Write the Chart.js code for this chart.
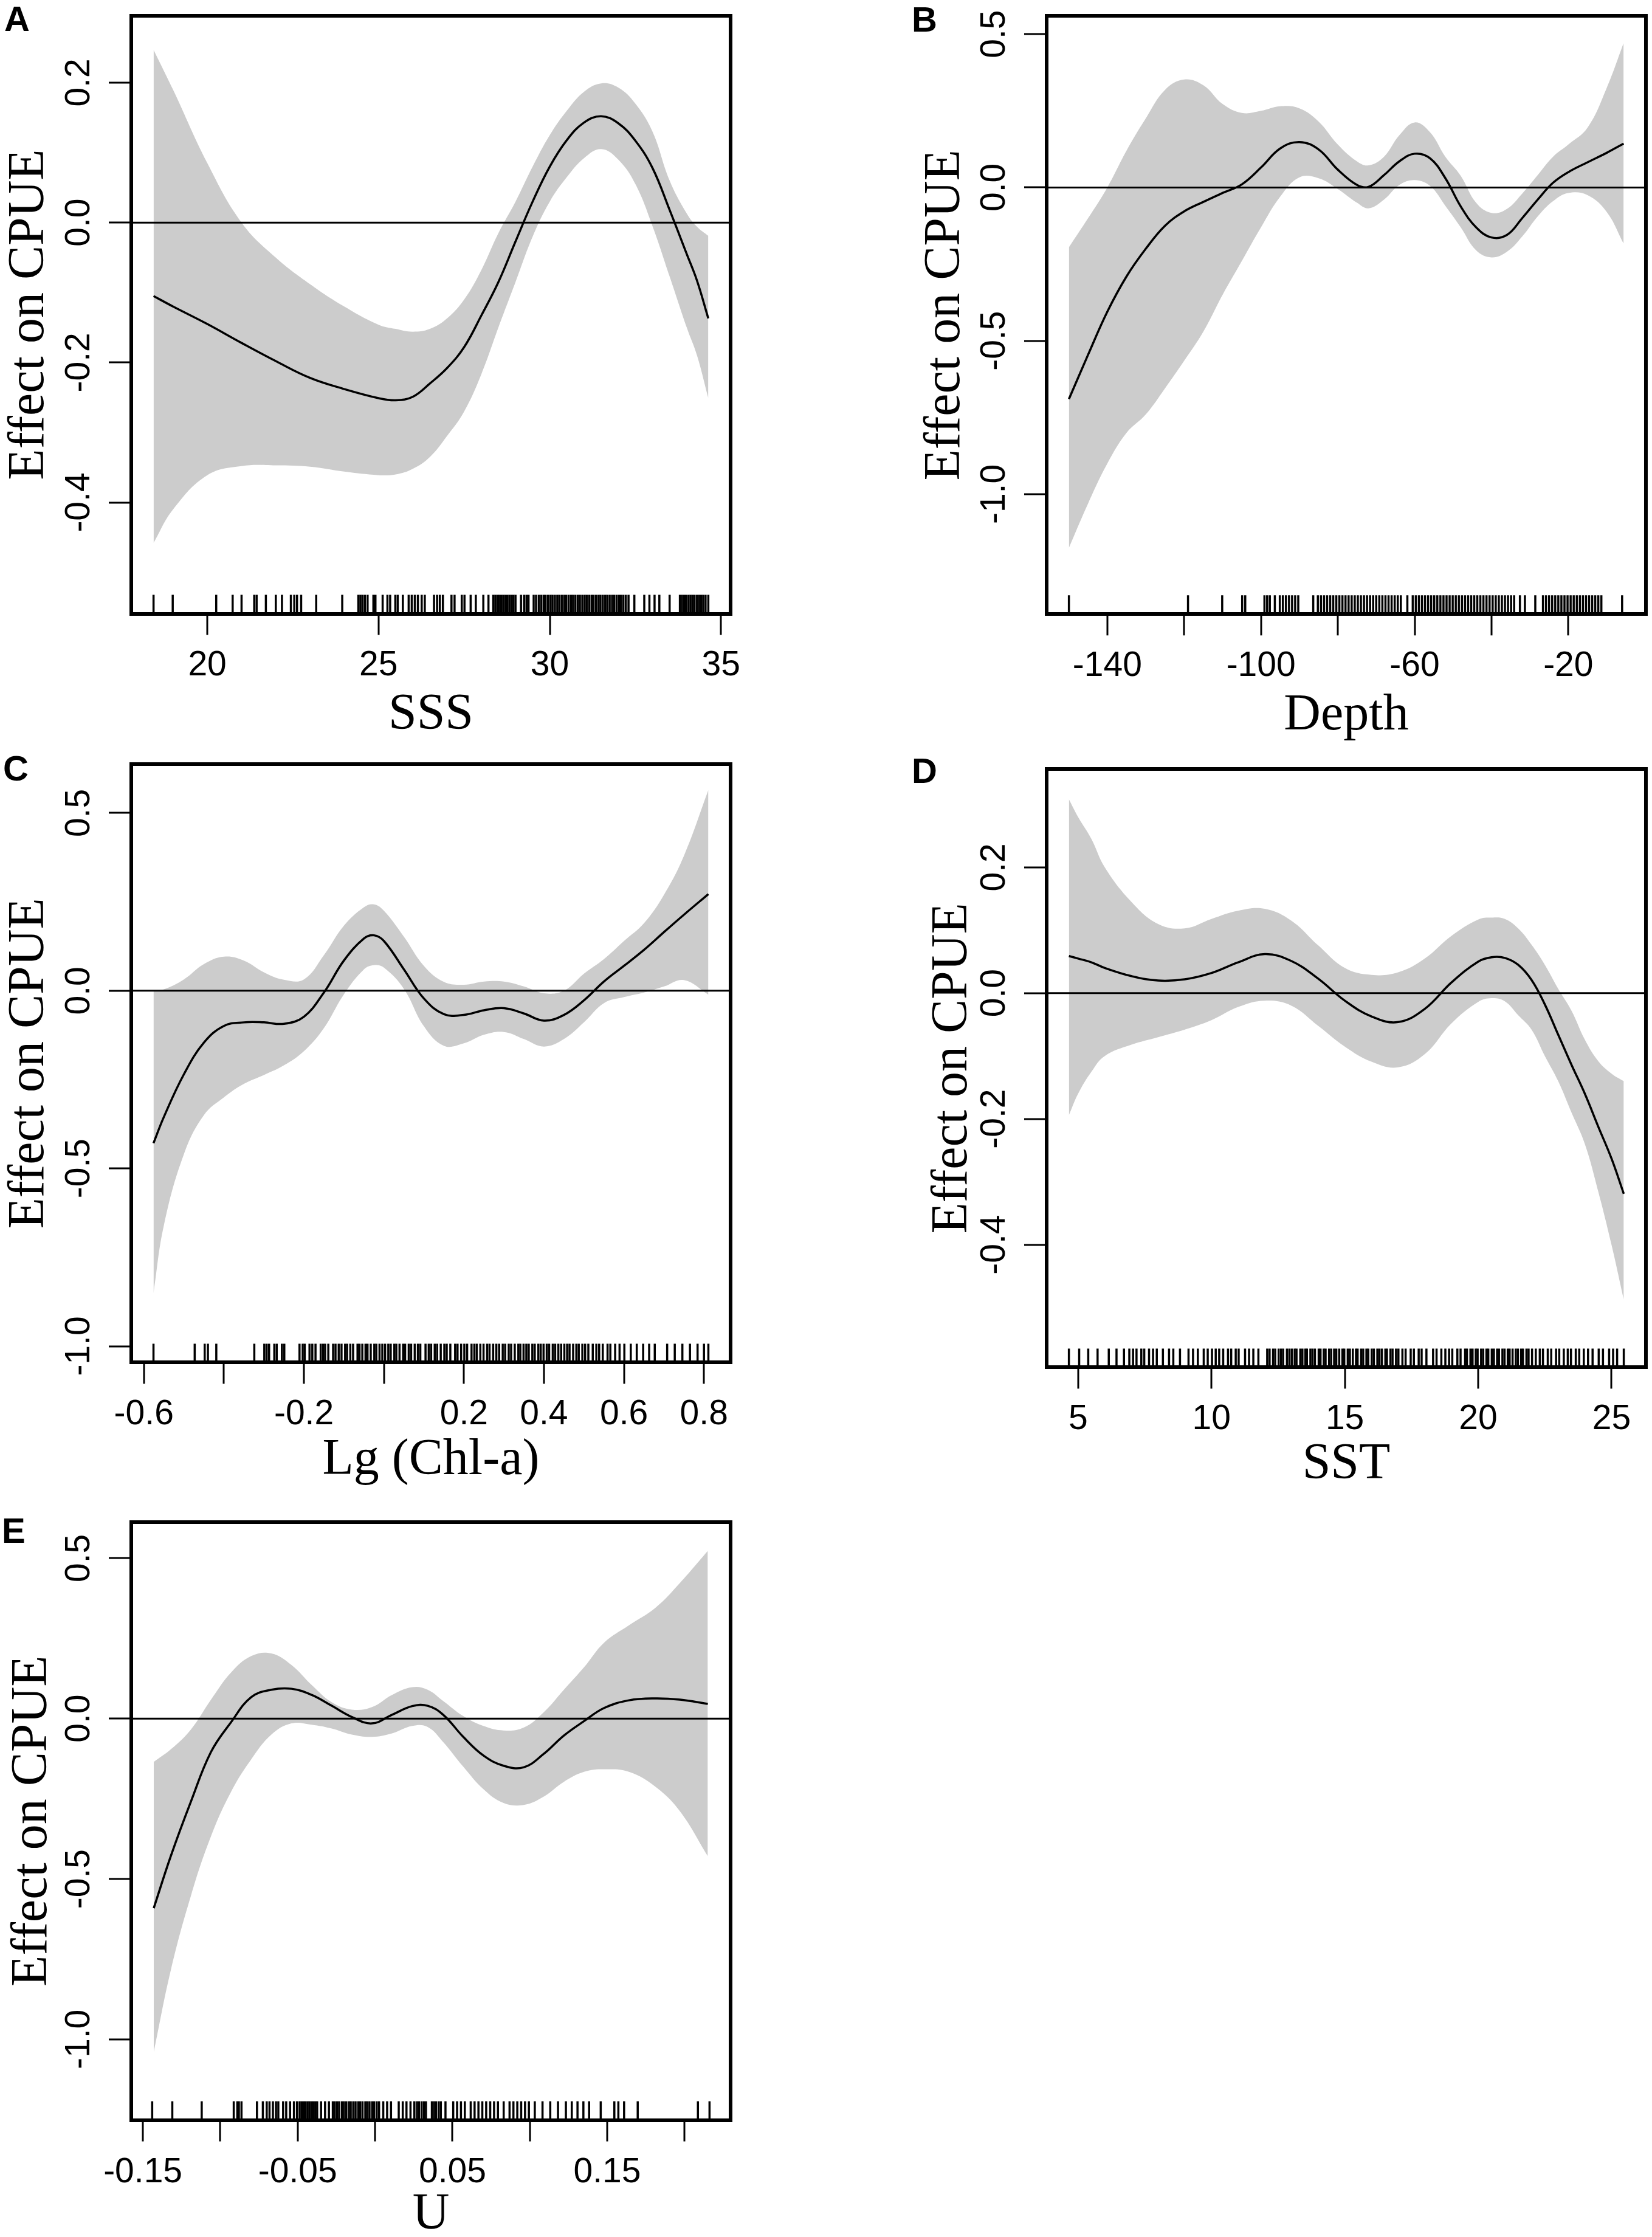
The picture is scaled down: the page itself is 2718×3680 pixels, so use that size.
<!DOCTYPE html>
<html lang="en">
<head>
<meta charset="utf-8">
<title>Effect on CPUE</title>
<script src="https://cdn.jsdelivr.net/npm/chart.js@4.4.1/dist/chart.umd.min.js"></script>
<style>
  html, body { margin: 0; padding: 0; background: #ffffff; }
  body { position: relative; width: 2718px; height: 3680px; overflow: hidden; }
  canvas { position: absolute; }
  .tag { position: absolute; font-family: "Liberation Sans", Arial, Helvetica, sans-serif; font-weight: bold; font-size: 58px; line-height: 58px; color: #000; }
</style>
</head>
<body>
<div class="tag" style="left:7px;top:2px">A</div>
<div class="tag" style="left:1500px;top:3px">B</div>
<div class="tag" style="left:5px;top:1235px">C</div>
<div class="tag" style="left:1500px;top:1239px">D</div>
<div class="tag" style="left:3px;top:2489px">E</div>
<canvas id="cA"></canvas>
<canvas id="cB"></canvas>
<canvas id="cC"></canvas>
<canvas id="cD"></canvas>
<canvas id="cE"></canvas>
<script>
// ---------------- DATA ----------------
// Panel A: SSS
const sssX = [18.43, 19, 20, 21, 22, 23, 24, 25, 25.5, 26, 26.5, 27, 27.5, 28, 28.5, 29, 29.5, 30, 30.5, 31, 31.5, 32, 32.5, 33, 33.5, 34, 34.3, 34.63];
const sssFit = [-0.105, -0.120, -0.145, -0.172, -0.198, -0.222, -0.238, -0.251, -0.254, -0.249, -0.230, -0.208, -0.178, -0.133, -0.085, -0.027, 0.030, 0.080, 0.118, 0.143, 0.152, 0.142, 0.117, 0.078, 0.018, -0.045, -0.083, -0.137];
const sssUpper = [0.247, 0.190, 0.085, 0.000, -0.050, -0.088, -0.120, -0.146, -0.152, -0.156, -0.152, -0.137, -0.110, -0.068, -0.015, 0.030, 0.080, 0.125, 0.160, 0.187, 0.199, 0.193, 0.170, 0.130, 0.060, 0.013, -0.006, -0.019];
const sssLower = [-0.458, -0.410, -0.361, -0.348, -0.347, -0.349, -0.356, -0.361, -0.360, -0.352, -0.335, -0.305, -0.270, -0.217, -0.150, -0.085, -0.020, 0.030, 0.065, 0.092, 0.105, 0.090, 0.055, -0.005, -0.077, -0.150, -0.190, -0.251];
const sssRug = [18.43, 18.99, 20.26, 20.74, 21.0, 21.37, 21.44, 21.71, 22.0, 22.18, 22.44, 22.54, 22.62, 22.74, 23.18, 23.94, 24.41, 24.47, 24.53, 24.6, 24.68, 24.85, 24.91, 25.12, 25.26, 25.34, 25.49, 25.56, 25.71, 25.88, 25.97, 26.06, 26.15, 26.26, 26.35, 26.62, 26.71, 26.79, 26.88, 27.13, 27.22, 27.43, 27.51, 27.69, 27.84, 28.06, 28.21, 28.35, 28.41, 28.47, 28.52, 28.58, 28.64, 28.7, 28.76, 28.82, 28.88, 28.94, 29.0, 29.16, 29.25, 29.32, 29.38, 29.53, 29.6, 29.68, 29.75, 29.82, 29.88, 29.95, 30.02, 30.08, 30.15, 30.22, 30.28, 30.35, 30.42, 30.48, 30.55, 30.62, 30.68, 30.75, 30.82, 30.88, 30.95, 31.02, 31.08, 31.15, 31.22, 31.28, 31.35, 31.42, 31.48, 31.55, 31.62, 31.68, 31.75, 31.82, 31.88, 31.95, 32.02, 32.08, 32.15, 32.22, 32.3, 32.47, 32.76, 32.91, 33.06, 33.2, 33.5, 33.8, 33.86, 33.92, 33.98, 34.05, 34.11, 34.17, 34.23, 34.3, 34.36, 34.42, 34.48, 34.55, 34.63];
const sssXRange = [17.78, 35.28];
const sssYRange = [-0.559, 0.296];
const sssXTicks = [20, 25, 30, 35];
const sssXLabels = ['20', '25', '30', '35'];
const sssYTicks = [-0.4, -0.2, 0, 0.2];
const sssYLabels = ['-0.4', '-0.2', '0.0', '0.2'];

// Panel B: Depth
const depthX = [-150, -145, -140, -135, -130, -125, -120, -115, -110, -105, -100, -95, -90, -85, -80, -75, -72, -68, -64, -60, -56, -52, -48, -44, -40, -36, -32, -28, -24, -20, -15, -10, -5.6];
const depthFit = [-0.690, -0.545, -0.405, -0.290, -0.200, -0.125, -0.078, -0.047, -0.018, 0.010, 0.065, 0.127, 0.148, 0.124, 0.058, 0.008, 0.002, 0.040, 0.085, 0.110, 0.095, 0.030, -0.062, -0.130, -0.163, -0.155, -0.100, -0.040, 0.015, 0.050, 0.082, 0.113, 0.143];
const depthUpper = [-0.195, -0.100, 0.000, 0.120, 0.225, 0.318, 0.352, 0.333, 0.272, 0.243, 0.250, 0.265, 0.258, 0.215, 0.140, 0.085, 0.072, 0.100, 0.170, 0.212, 0.180, 0.100, 0.038, -0.050, -0.083, -0.070, -0.020, 0.040, 0.100, 0.140, 0.195, 0.325, 0.471];
const depthLower = [-1.175, -1.030, -0.900, -0.800, -0.740, -0.655, -0.565, -0.470, -0.350, -0.240, -0.130, -0.030, 0.033, 0.030, -0.005, -0.050, -0.068, -0.040, 0.008, 0.024, 0.005, -0.060, -0.130, -0.205, -0.228, -0.210, -0.160, -0.095, -0.045, -0.018, -0.025, -0.080, -0.183];
const depthRug = [-150, -119, -110.1, -104.9, -104.1, -99.1, -98.4, -97.7, -96.4, -95.1, -94.3, -93.5, -92.7, -91.9, -91.1, -90.3, -86.4, -85.2, -84.4, -83.6, -82.8, -82, -81.2, -80.4, -79.6, -78.8, -78, -77.2, -76.4, -75.6, -74.8, -74, -73.2, -72.4, -71.6, -70.8, -70, -69.2, -68.4, -67.6, -66.8, -66, -65.2, -64.4, -63.6, -61.9, -60.5, -59.7, -58.9, -58.1, -57.3, -56.5, -55.7, -54.9, -54.1, -53.3, -52.5, -51.7, -50.9, -50.1, -49.3, -48.5, -47.7, -46.9, -46.1, -45.3, -44.5, -43.7, -42.9, -42.1, -41.3, -40.5, -39.7, -38.9, -38.1, -37.3, -36.5, -35.7, -34.9, -34.1, -32.6, -31.3, -28.6, -26.6, -25.8, -25, -24.2, -23.4, -22.6, -21.8, -21, -20.2, -19.4, -18.6, -17.8, -17, -16.2, -15.4, -14.6, -13.8, -13, -12.2, -11.4, -6];
const depthXRange = [-155.8, 0.2];
const depthYRange = [-1.391, 0.559];
const depthXTicks = [-140, -120, -100, -80, -60, -40, -20];
const depthXLabels = ['-140', '', '-100', '', '-60', '', '-20'];
const depthYTicks = [-1.0, -0.5, 0, 0.5];
const depthYLabels = ['-1.0', '-0.5', '0.0', '0.5'];

// Panel C: Lg (Chl-a)
const chlX = [-0.576, -0.55, -0.5, -0.45, -0.4, -0.35, -0.3, -0.25, -0.2, -0.15, -0.1, -0.05, -0.025, 0, 0.05, 0.1, 0.15, 0.2, 0.25, 0.3, 0.35, 0.4, 0.45, 0.5, 0.55, 0.6, 0.65, 0.7, 0.75, 0.811];
const chlFit = [-0.429, -0.355, -0.235, -0.146, -0.099, -0.089, -0.089, -0.093, -0.073, -0.005, 0.085, 0.147, 0.156, 0.140, 0.060, -0.022, -0.066, -0.068, -0.055, -0.049, -0.064, -0.084, -0.068, -0.027, 0.026, 0.070, 0.115, 0.165, 0.214, 0.272];
const chlUpper = [0.000, 0.004, 0.032, 0.075, 0.096, 0.085, 0.052, 0.031, 0.032, 0.100, 0.183, 0.235, 0.243, 0.225, 0.152, 0.070, 0.025, 0.017, 0.026, 0.026, 0.012, -0.007, 0.000, 0.048, 0.089, 0.140, 0.190, 0.270, 0.380, 0.565];
const chlLower = [-0.851, -0.660, -0.460, -0.350, -0.300, -0.262, -0.237, -0.210, -0.170, -0.105, -0.010, 0.060, 0.072, 0.065, 0.005, -0.100, -0.155, -0.148, -0.124, -0.116, -0.136, -0.157, -0.136, -0.089, -0.035, -0.018, -0.005, 0.012, 0.030, -0.011];
const chlRug = [-0.576, -0.473, -0.448, -0.44, -0.419, -0.324, -0.299, -0.293, -0.287, -0.274, -0.268, -0.255, -0.249, -0.211, -0.203, -0.198, -0.186, -0.179, -0.171, -0.158, -0.152, -0.147, -0.139, -0.127, -0.121, -0.113, -0.106, -0.097, -0.092, -0.084, -0.077, -0.066, -0.061, -0.054, -0.046, -0.041, -0.033, -0.024, -0.019, -0.011, -0.004, 0.003, 0.011, 0.017, 0.026, 0.031, 0.039, 0.048, 0.053, 0.062, 0.068, 0.077, 0.085, 0.091, 0.104, 0.112, 0.118, 0.127, 0.133, 0.142, 0.151, 0.157, 0.166, 0.178, 0.184, 0.193, 0.201, 0.208, 0.219, 0.226, 0.232, 0.241, 0.249, 0.258, 0.264, 0.273, 0.281, 0.288, 0.297, 0.303, 0.312, 0.318, 0.327, 0.336, 0.341, 0.349, 0.356, 0.362, 0.371, 0.377, 0.386, 0.392, 0.399, 0.407, 0.413, 0.422, 0.428, 0.436, 0.443, 0.451, 0.458, 0.464, 0.473, 0.481, 0.487, 0.496, 0.503, 0.511, 0.522, 0.531, 0.538, 0.547, 0.559, 0.566, 0.578, 0.589, 0.601, 0.617, 0.632, 0.648, 0.663, 0.677, 0.708, 0.727, 0.746, 0.765, 0.784, 0.8, 0.811];
const chlXRange = [-0.6315, 0.8665];
const chlYRange = [-1.046, 0.637];
const chlXTicks = [-0.6, -0.4, -0.2, 0, 0.2, 0.4, 0.6, 0.8];
const chlXLabels = ['-0.6', '', '-0.2', '', '0.2', '0.4', '0.6', '0.8'];
const chlYTicks = [-1.0, -0.5, 0, 0.5];
const chlYLabels = ['-1.0', '-0.5', '0.0', '0.5'];

// Panel D: SST
const sstX = [4.655, 5, 5.5, 6, 7, 8, 9, 10, 11, 12, 13, 14, 15, 16, 17, 18, 19, 20, 20.5, 21, 21.5, 22, 22.5, 23, 23.5, 24, 24.5, 25, 25.46];
const sstFit = [0.059, 0.055, 0.049, 0.040, 0.027, 0.020, 0.022, 0.032, 0.049, 0.062, 0.051, 0.023, -0.012, -0.037, -0.046, -0.025, 0.017, 0.050, 0.057, 0.056, 0.045, 0.021, -0.018, -0.066, -0.114, -0.160, -0.212, -0.263, -0.319];
const sstUpper = [0.308, 0.280, 0.245, 0.200, 0.145, 0.110, 0.103, 0.118, 0.131, 0.134, 0.115, 0.076, 0.040, 0.029, 0.033, 0.055, 0.091, 0.117, 0.120, 0.118, 0.103, 0.077, 0.045, 0.007, -0.028, -0.074, -0.108, -0.128, -0.140];
const sstLower = [-0.194, -0.160, -0.125, -0.100, -0.082, -0.070, -0.058, -0.043, -0.022, -0.012, -0.020, -0.052, -0.085, -0.109, -0.118, -0.097, -0.048, -0.014, -0.008, -0.013, -0.035, -0.058, -0.100, -0.140, -0.190, -0.240, -0.315, -0.400, -0.487];
const sstRug = [4.655, 5.04, 5.38, 5.73, 6.15, 6.44, 6.72, 6.92, 7.06, 7.19, 7.37, 7.48, 7.66, 7.81, 7.95, 8.18, 8.41, 8.57, 8.82, 9.14, 9.31, 9.49, 9.71, 9.86, 10.02, 10.16, 10.29, 10.44, 10.62, 10.74, 10.91, 11.02, 11.26, 11.41, 11.57, 11.76, 12.09, 12.18, 12.31, 12.39, 12.52, 12.61, 12.69, 12.83, 12.92, 13.01, 13.12, 13.19, 13.33, 13.41, 13.52, 13.58, 13.71, 13.79, 13.88, 14.02, 14.09, 14.21, 14.28, 14.41, 14.49, 14.6, 14.68, 14.79, 14.91, 14.98, 15.11, 15.19, 15.3, 15.42, 15.48, 15.61, 15.69, 15.81, 15.88, 16.01, 16.09, 16.22, 16.3, 16.39, 16.52, 16.58, 16.71, 16.79, 16.92, 17.01, 17.16, 17.28, 17.47, 17.59, 17.77, 17.88, 18.06, 18.31, 18.44, 18.62, 18.77, 18.91, 19.03, 19.22, 19.34, 19.51, 19.58, 19.71, 19.79, 19.91, 19.98, 20.11, 20.19, 20.31, 20.38, 20.51, 20.59, 20.71, 20.78, 20.91, 20.99, 21.11, 21.18, 21.29, 21.41, 21.49, 21.61, 21.68, 21.81, 21.89, 22.02, 22.16, 22.31, 22.43, 22.61, 22.74, 22.92, 23.04, 23.21, 23.36, 23.48, 23.66, 23.79, 23.96, 24.12, 24.29, 24.52, 24.68, 24.91, 25.06, 25.21, 25.46];
const sstXRange = [3.82, 26.29];
const sstYRange = [-0.595, 0.356];
const sstXTicks = [5, 10, 15, 20, 25];
const sstXLabels = ['5', '10', '15', '20', '25'];
const sstYTicks = [-0.4, -0.2, 0, 0.2];
const sstYLabels = ['-0.4', '-0.2', '0.0', '0.2'];

// Panel E: U
const uX = [-0.143, -0.132, -0.119, -0.106, -0.093, -0.08, -0.067, -0.054, -0.041, -0.028, -0.015, -0.002, 0.011, 0.024, 0.034, 0.044, 0.057, 0.07, 0.083, 0.096, 0.109, 0.122, 0.135, 0.148, 0.164, 0.181, 0.197, 0.215];
const uFit = [-0.591, -0.429, -0.259, -0.104, -0.011, 0.067, 0.090, 0.093, 0.074, 0.040, 0.005, -0.015, 0.012, 0.039, 0.040, 0.012, -0.057, -0.115, -0.147, -0.152, -0.110, -0.053, -0.008, 0.033, 0.057, 0.063, 0.059, 0.046];
const uUpper = [-0.135, -0.096, -0.034, 0.059, 0.144, 0.195, 0.203, 0.167, 0.105, 0.051, 0.028, 0.036, 0.074, 0.098, 0.090, 0.055, 0.008, -0.023, -0.037, -0.028, 0.020, 0.090, 0.160, 0.237, 0.291, 0.345, 0.423, 0.523];
const uLower = [-1.040, -0.785, -0.553, -0.367, -0.228, -0.127, -0.050, -0.015, -0.019, -0.031, -0.050, -0.057, -0.046, -0.023, -0.026, -0.073, -0.150, -0.220, -0.263, -0.269, -0.243, -0.197, -0.166, -0.158, -0.166, -0.212, -0.289, -0.429];
const uRug = [-0.144, -0.131, -0.112, -0.0913, -0.089, -0.088, -0.0863, -0.0763, -0.0725, -0.07, -0.0682, -0.066, -0.064, -0.0625, -0.0594, -0.0574, -0.0549, -0.0524, -0.0504, -0.0487, -0.0474, -0.0461, -0.0449, -0.0436, -0.0424, -0.0411, -0.0399, -0.0386, -0.0374, -0.0349, -0.0323, -0.0298, -0.0273, -0.026, -0.0245, -0.0232, -0.0214, -0.0201, -0.0186, -0.0169, -0.0157, -0.0141, -0.0126, -0.0109, -0.0096, -0.0081, -0.0063, -0.0051, -0.0036, -0.0019, -0.0006, 0.0011, 0.0026, 0.0053, 0.0078, 0.0103, 0.0153, 0.0179, 0.0203, 0.0229, 0.0254, 0.0271, 0.0284, 0.0301, 0.0316, 0.0329, 0.0367, 0.0381, 0.0394, 0.0411, 0.0425, 0.0455, 0.0505, 0.053, 0.0555, 0.058, 0.0618, 0.0643, 0.0668, 0.0693, 0.0718, 0.0744, 0.0769, 0.0794, 0.0831, 0.0869, 0.0894, 0.0919, 0.0944, 0.0969, 0.0994, 0.1032, 0.1082, 0.1132, 0.1182, 0.1233, 0.1271, 0.1308, 0.1346, 0.1383, 0.1458, 0.1546, 0.1572, 0.1609, 0.1697, 0.2086, 0.2161];
const uXRange = [-0.1575, 0.2297];
const uYRange = [-1.2516, 0.613];
const uXTicks = [-0.15, -0.1, -0.05, 0, 0.05, 0.1, 0.15, 0.2];
const uXLabels = ['-0.15', '', '-0.05', '', '0.05', '', '0.15', ''];
const uYTicks = [-1.0, -0.5, 0, 0.5];
const uYLabels = ['-1.0', '-0.5', '0.0', '0.5'];

const yTitleText = 'Effect on CPUE';

// ---------------- STYLE / LAYOUT ----------------
const SANS = '"Liberation Sans", Arial, Helvetica, sans-serif';
const SERIF = '"Liberation Serif", "Times New Roman", Times, serif';
const TICK_SIZE = 57;
const TITLE_SIZE = 84;
const BOX_W = 986, BOX_H = 984, Y_AXIS_W = 216, X_AXIS_H = 210;
const RUG_HALF = 15;
const BAND = '#cccccc';

const panels = [
  {canvas: 'cA', left: 0, top: 0, padTop: 25.5, padRight: 60, yTitlePad: 7, xTitlePad: 1, xTitle: 'SSS',
   x: sssX, fit: sssFit, upper: sssUpper, lower: sssLower, rug: sssRug, xRange: sssXRange, yRange: sssYRange,
   xTicks: sssXTicks, xLabels: sssXLabels, yTicks: sssYTicks, yLabels: sssYLabels},
  {canvas: 'cB', left: 1506, top: 0, padTop: 26.3, padRight: 10, yTitlePad: 8, xTitlePad: 0, xTitle: 'Depth',
   x: depthX, fit: depthFit, upper: depthUpper, lower: depthLower, rug: depthRug, xRange: depthXRange, yRange: depthYRange,
   xTicks: depthXTicks, xLabels: depthXLabels, yTicks: depthYTicks, yLabels: depthYLabels},
  {canvas: 'cC', left: 0, top: 1200, padTop: 57.4, padRight: 60, yTitlePad: 7, xTitlePad: 6, xTitle: 'Lg (Chl-a)',
   x: chlX, fit: chlFit, upper: chlUpper, lower: chlLower, rug: chlRug, xRange: chlXRange, yRange: chlYRange,
   xTicks: chlXTicks, xLabels: chlXLabels, yTicks: chlYTicks, yLabels: chlYLabels},
  {canvas: 'cD', left: 1506, top: 1200, padTop: 65.4, padRight: 10, yTitlePad: 20, xTitlePad: 7, xTitle: 'SST',
   x: sstX, fit: sstFit, upper: sstUpper, lower: sstLower, rug: sstRug, xRange: sstXRange, yRange: sstYRange,
   xTicks: sstXTicks, xLabels: sstXLabels, yTicks: sstYTicks, yLabels: sstYLabels},
  {canvas: 'cE', left: 0, top: 2450, padTop: 53.7, padRight: 60, yTitlePad: 12, xTitlePad: 12, xTitle: 'U',
   x: uX, fit: uFit, upper: uUpper, lower: uLower, rug: uRug, xRange: uXRange, yRange: uYRange,
   xTicks: uXTicks, xLabels: uXLabels, yTicks: uYTicks, yLabels: uYLabels}
];

function pts(xs, ys) { return xs.map((x, i) => ({x: x, y: ys[i]})); }

function widestLabel(labels) {
  const ctx = document.createElement('canvas').getContext('2d');
  ctx.font = TICK_SIZE + 'px ' + SANS;
  return Math.max.apply(null, labels.map(s => ctx.measureText(s).width));
}

function zeroPadding(s) { s.paddingLeft = 0; s.paddingRight = 0; s.paddingTop = 0; s.paddingBottom = 0; }

function drawPanel(p) {
  const canvas = document.getElementById(p.canvas);
  const w = Y_AXIS_W + BOX_W + p.padRight;
  const h = Math.ceil(p.padTop + BOX_H + X_AXIS_H);
  const xAxisH = h - p.padTop - BOX_H;
  canvas.width = w; canvas.height = h;
  canvas.style.left = p.left + 'px'; canvas.style.top = p.top + 'px';
  canvas.style.width = w + 'px'; canvas.style.height = h + 'px';

  const tickFont = {family: SANS, size: TICK_SIZE};
  const titleFont = {family: SERIF, size: TITLE_SIZE, lineHeight: 1};
  const yPad = 47.5 - widestLabel(p.yLabels) / 2;
  const rugY = p.yRange[0] + (p.yRange[1] - p.yRange[0]) * (RUG_HALF + 1) / BOX_H;
  const curve = {tension: 0.4, cubicInterpolationMode: 'default'};

  new Chart(canvas, {
    type: 'line',
    data: {
      datasets: [
        Object.assign({label: 'upper', data: pts(p.x, p.upper), xAxisID: 'x', yAxisID: 'y', borderWidth: 0, borderColor: 'rgba(0,0,0,0)',
         backgroundColor: BAND, pointRadius: 0, fill: '+1', order: 5}, curve),
        Object.assign({label: 'lower', data: pts(p.x, p.lower), xAxisID: 'x', yAxisID: 'y', borderWidth: 0, borderColor: 'rgba(0,0,0,0)',
         backgroundColor: BAND, pointRadius: 0, fill: false, order: 4}, curve),
        {label: 'zero', data: [{x: p.xRange[0], y: 0}, {x: p.xRange[1], y: 0}], xAxisID: 'x', yAxisID: 'y',
         borderColor: '#000', borderWidth: 3, pointRadius: 0, fill: false, tension: 0, order: 3},
        Object.assign({label: 'fit', data: pts(p.x, p.fit), xAxisID: 'x', yAxisID: 'y', borderColor: '#000', borderWidth: 3.5,
         pointRadius: 0, fill: false, order: 2}, curve),
        {label: 'rug', data: p.rug.map(v => ({x: v, y: rugY})), xAxisID: 'x', yAxisID: 'y', showLine: false,
         pointStyle: 'line', pointRotation: 90, pointRadius: RUG_HALF, pointHoverRadius: RUG_HALF,
         pointBorderWidth: 3.5, pointBorderColor: '#000', pointBackgroundColor: '#000', borderColor: '#000', fill: false, order: 1}
      ]
    },
    options: {
      responsive: false,
      animation: false,
      devicePixelRatio: 1,
      events: [],
      layout: {autoPadding: false, padding: {top: p.padTop, right: p.padRight, left: 0, bottom: 0}},
      plugins: {legend: {display: false}, tooltip: {enabled: false}, title: {display: false}},
      scales: {
        x: {
          type: 'linear', position: 'bottom', min: p.xRange[0], max: p.xRange[1],
          afterBuildTicks: s => { s.ticks = p.xTicks.map(v => ({value: v})); },
          afterFit: s => { s.height = xAxisH; zeroPadding(s); },
          ticks: {autoSkip: false, minRotation: 0, maxRotation: 0, padding: 17, font: tickFont, color: '#000',
                  callback: (v, i) => p.xLabels[i]},
          grid: {display: true, drawOnChartArea: false, drawTicks: true, tickLength: 35, tickWidth: 3, tickColor: '#000', lineWidth: 6, color: '#000'},
          border: {display: true, width: 6, color: '#000'},
          title: {display: true, text: p.xTitle, font: titleFont, color: '#000', padding: {top: 0, bottom: p.xTitlePad + (xAxisH - X_AXIS_H)}}
        },
        y: {
          type: 'linear', position: 'left', min: p.yRange[0], max: p.yRange[1],
          afterBuildTicks: s => { s.ticks = p.yTicks.map(v => ({value: v})); },
          afterFit: s => { s.width = Y_AXIS_W; zeroPadding(s); },
          ticks: {autoSkip: false, minRotation: 90, maxRotation: 90, crossAlign: 'center', padding: yPad,
                  font: tickFont, color: '#000', callback: (v, i) => p.yLabels[i]},
          grid: {display: true, drawOnChartArea: false, drawTicks: true, tickLength: 37, tickWidth: 3, tickColor: '#000', lineWidth: 6, color: '#000'},
          border: {display: true, width: 6, color: '#000'},
          title: {display: true, text: yTitleText, font: titleFont, color: '#000', padding: {top: p.yTitlePad, bottom: 0}}
        },
        x2: {
          type: 'linear', position: 'top', min: p.xRange[0], max: p.xRange[1],
          afterFit: s => { s.height = 0; zeroPadding(s); },
          ticks: {display: false},
          grid: {display: false, drawTicks: false, lineWidth: 6},
          border: {display: true, width: 6, color: '#000'}
        },
        y2: {
          type: 'linear', position: 'right', min: p.yRange[0], max: p.yRange[1],
          afterFit: s => { s.width = 0; zeroPadding(s); },
          ticks: {display: false},
          grid: {display: false, drawTicks: false, lineWidth: 6},
          border: {display: true, width: 6, color: '#000'}
        }
      }
    }
  });
}

panels.forEach(drawPanel);
</script>
</body>
</html>
